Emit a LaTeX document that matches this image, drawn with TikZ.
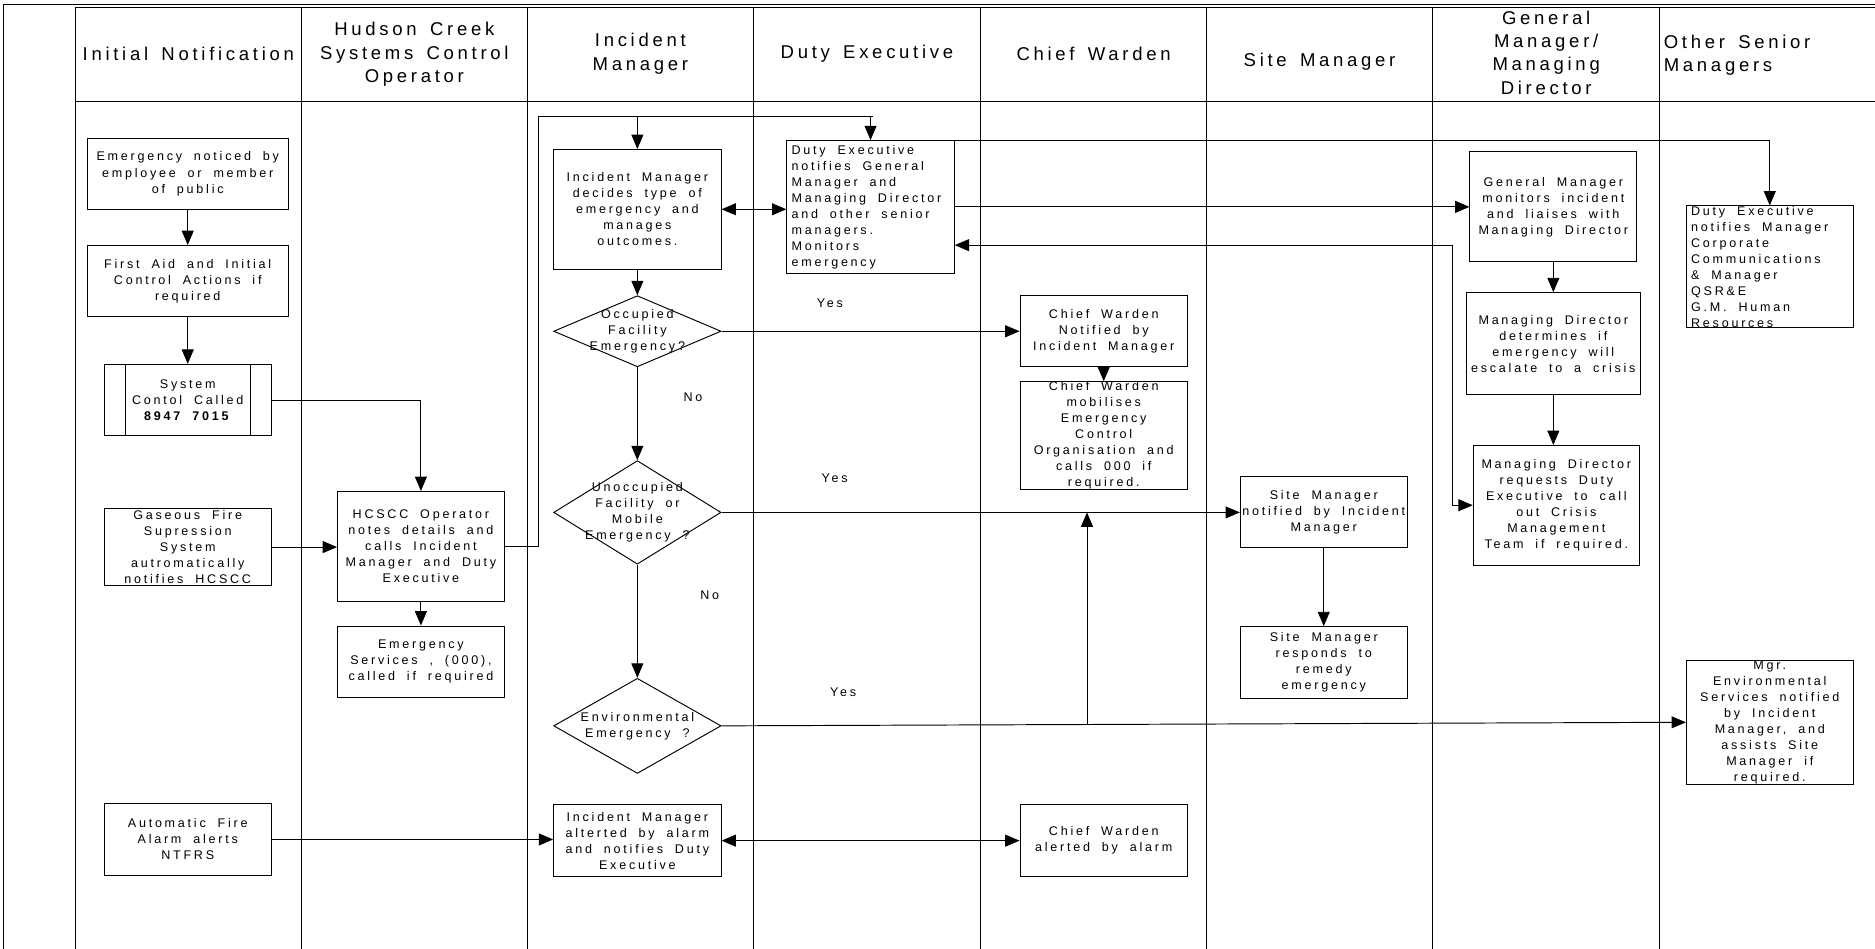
\documentclass[tikz,border=0pt]{standalone}
\usepackage{fontspec}
\setmainfont{Liberation Sans}
\newfontfamily\boxfont{Liberation Sans}[LetterSpace=22, WordSpace=1.9]
\newfontfamily\headfont{Liberation Sans}[LetterSpace=20, WordSpace=1.5]
\usetikzlibrary{arrows.meta}
\usetikzlibrary{shapes.geometric}

\begin{document}
\begin{tikzpicture}[x = 1pt, y = -1pt, line width = 0.8pt,
    procbox/.style = {rectangle, draw, inner sep = 0pt, align = center,
        font = \boxfont\fontsize{10.5}{13.4}\selectfont},
    notebox/.style = {procbox, align = flush left, inner xsep = 4pt},
    decision/.style = {diamond, draw, inner sep = 0pt},
    boxtext/.style = {inner sep = 0pt, align = center,
        font = \boxfont\fontsize{10.5}{13.4}\selectfont},
    lanehead/.style = {inner sep = 0pt, align = center,
        font = \headfont\fontsize{15.5}{19.5}\selectfont},
    flow/.style = {-{Triangle[length = 12pt, width = 10pt]}},
    twoway/.style = {{Triangle[length = 12pt, width = 10pt]}-{Triangle[length = 12pt, width = 10pt]}}
]
    \useasboundingbox (0,0) rectangle (1568,793.6);

    %\draw[help lines, opacity = 0.1] (0,0) grid[step = 50] (1568,794);

    % frame and lanes
    \draw (3,3.5) -- (1568,3.5);
    \draw (3,3.5) -- (3,793.6);
    \draw (63,6.5) -- (1568,6.5);
    \draw (63,85) -- (1568,85);
    \foreach \x in {63,252,441,630,820,1009,1198,1388}
        \draw[line width = 1pt] (\x,6.5) -- (\x,793.6);

    \node (h1) at (157.5,45) [lanehead] {Initial Notification};
    \node (h2) at (346.5,45.5) [lanehead] {Hudson Creek\\Systems Control\\Operator};
    \node (h3) at (535.5,45) [lanehead] {Incident\\Manager};
    \node (h4) at (725,45) [lanehead] {Duty Executive};
    \node (h5) at (914.5,45) [lanehead] {Chief Warden};
    \node (h6) at (1103.5,52) [lanehead] {Site Manager};
    \node (h7) at (1293,44) [lanehead] {General\\Manager/\\Managing\\Director};
    \node (h8) at (1391,46) [lanehead, anchor = west, align = left] {Other Senior\\Managers};

    % initial notification
    \node (en) at (157,145.3) [procbox, minimum width = 168, minimum height = 59.4]
        {Emergency noticed by\\employee or member\\of public};
    \node (fa) at (157,235) [procbox, minimum width = 168, minimum height = 59.4]
        {First Aid and Initial\\Control Actions if\\required};
    \node (sc) at (157,334.5) [procbox, minimum width = 139.5, minimum height = 59.7]
        {System\\Contol Called\\\textbf{8947 7015}};
    \draw ([xshift = 17.8]sc.north west) -- ([xshift = 17.8]sc.south west);
    \draw ([xshift = -17.8]sc.north east) -- ([xshift = -17.8]sc.south east);
    \node (gf) at (157,457.5) [procbox, minimum width = 139.5, minimum height = 65]
        {Gaseous Fire\\Supression\\System\\autromatically\\notifies HCSCC};
    \node (af) at (157,702) [procbox, minimum width = 139.5, minimum height = 60]
        {Automatic Fire\\Alarm alerts\\NTFRS};

    % control operator
    \node (hc) at (352,457) [procbox, minimum width = 139.5, minimum height = 92]
        {HCSCC Operator\\notes details and\\calls Incident\\Manager and Duty\\Executive};
    \node (es) at (352,553.5) [procbox, minimum width = 139.5, minimum height = 60]
        {Emergency\\Services , (000),\\called if required};

    % incident manager
    \node (imd) at (533,175) [procbox, minimum width = 140, minimum height = 100]
        {Incident Manager\\decides type of\\emergency and\\manages\\outcomes.};
    \node (occ) at (533,277) [decision, minimum width = 140, minimum height = 59.5] {};
    \node (occ text) at (occ) [boxtext] {Occupied\\Facility\\Emergency?};
    \node (unocc) at (533,428.5) [decision, minimum width = 140, minimum height = 86.6] {};
    \node (unocc text) at (unocc) [boxtext] {Unoccupied\\Facility or\\Mobile\\Emergency ?};
    \node (env) at (533,607) [decision, minimum width = 140, minimum height = 79.6] {};
    \node (env text) at (env) [boxtext] {Environmental\\Emergency ?};
    \node (ima) at (533,703) [procbox, minimum width = 140, minimum height = 60]
        {Incident Manager\\alterted by alarm\\and notifies Duty\\Executive};

    % duty executive
    \node (de) at (728,173.3) [notebox, text width = 132, minimum height = 111.4]
        {Duty Executive\\notifies General\\Manager and\\Managing Director\\and other senior\\managers.\\Monitors\\emergency};

    % chief warden
    \node (cwn) at (923,277) [procbox, minimum width = 140, minimum height = 59.5]
        {Chief Warden\\Notified by\\Incident Manager};
    \node (cwm) at (923,364.3) [procbox, minimum width = 140, minimum height = 79.5]
        {Chief Warden\\mobilises\\Emergency\\Control\\Organisation and\\calls 000 if\\required.};
    \node (cwa) at (923,703) [procbox, minimum width = 140, minimum height = 60]
        {Chief Warden\\alerted by alarm};

    % site manager
    \node (smn) at (1107,428.3) [procbox, minimum width = 139.5, minimum height = 59.5]
        {Site Manager\\notified by Incident\\Manager};
    \node (smr) at (1107,554) [procbox, minimum width = 139.5, minimum height = 60]
        {Site Manager\\responds to\\remedy\\emergency};

    % general manager / managing director
    \node (gm) at (1299,173) [procbox, minimum width = 139.5, minimum height = 92]
        {General Manager\\monitors incident\\and liaises with\\Managing Director};
    \node (mdd) at (1299,287.4) [procbox, minimum width = 145.5, minimum height = 85.4]
        {Managing Director\\determines if\\emergency will\\escalate to a crisis};
    \node (mdr) at (1301.5,422.5) [procbox, minimum width = 139, minimum height = 100]
        {Managing Director\\requests Duty\\Executive to call\\out Crisis\\Management\\Team if required.};

    % other senior managers
    \node (dem) at (1480,223) [notebox, text width = 131.5, minimum height = 99.3]
        {Duty Executive\\notifies Manager\\Corporate\\Communications\\\& Manager\\QSR\&E\\G.M. Human\\Resources};
    \node (mge) at (1480,604) [procbox, minimum width = 139.5, minimum height = 100]
        {Mgr.\\Environmental\\Services notified\\by Incident\\Manager, and\\assists Site\\Manager if\\required.};

    % answers
    \node (yes1) at (694,254) [boxtext] {Yes};
    \node (no1) at (579.5,332) [boxtext] {No};
    \node (yes2) at (698,400) [boxtext] {Yes};
    \node (no2) at (593.5,498) [boxtext] {No};
    \node (yes3) at (705,579) [boxtext] {Yes};

    % connectors
    \coordinate (bus west) at (450,97.3);
    \coordinate (bus east) at (730,97.3);
    \coordinate (md bend) at (1215,205);
    \coordinate (tap) at (909,606);

    \draw[flow] (en) -- (fa);
    \draw[flow] (fa) -- (sc);
    \draw[flow] (sc.east) -| (hc.north);
    \draw[flow] (gf.east) -- (gf.east -| hc.west);
    \draw[flow] (hc) -- (es);
    \draw (hc.east) -| (bus west) -- (bus east);
    \draw[flow] (bus west -| imd.north) -- (imd.north);
    \draw[flow] (bus west -| de.north) -- (de.north);

    \draw[twoway] (imd.east) -- (imd.east -| de.west);
    \draw[flow] (de.east |- gm.west) -- (gm.west);
    \draw[flow] (de.north east) -| (dem.north);
    \draw[twoway] (md bend -| de.east) -- (md bend) |- (mdr.west);
    \draw[flow] (gm) -- (gm |- mdd.north);
    \draw[flow] (mdd.south) -- (mdd.south |- mdr.north);

    \draw[flow] (imd) -- (occ);
    \draw[flow] (occ.east) -- (cwn.west);
    \draw[flow] (cwn) -- (cwm);
    \draw[flow] (occ) -- (unocc);
    \draw[flow] (unocc.east) -- (unocc.east -| smn.west);
    \draw[flow] (smn) -- (smr);
    \draw[flow] (unocc) -- (env);
    \draw[flow] (env.east) -- (mge.west);
    \draw[flow] (tap) -- (tap |- unocc.east);

    \draw[flow] (af.east) -- (af.east -| ima.west);
    \draw[twoway] (ima) -- (cwa);

\end{tikzpicture}
\end{document}
